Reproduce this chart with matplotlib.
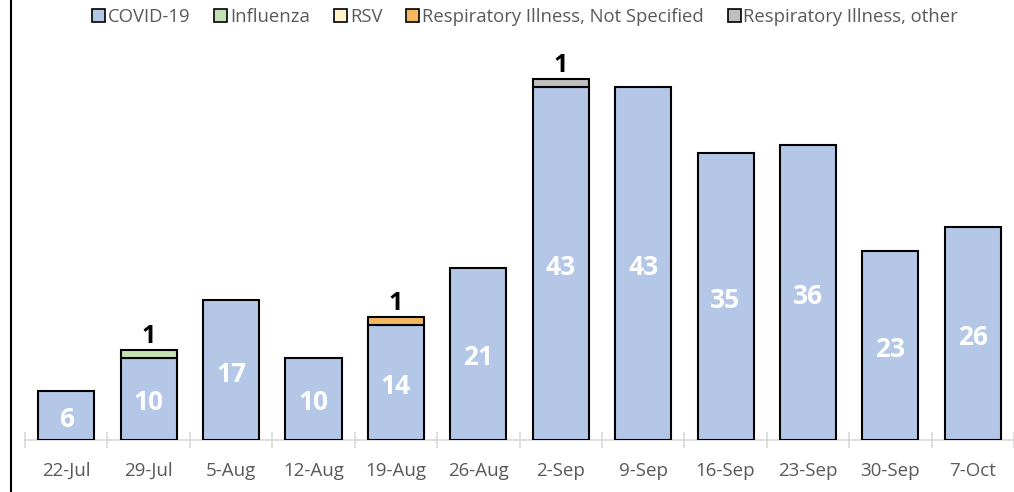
import numpy as np
import matplotlib.pyplot as plt
from matplotlib.lines import Line2D
from matplotlib.patches import Patch

weeks = ['22-Jul', '29-Jul', '5-Aug', '12-Aug', '19-Aug', '26-Aug',
         '2-Sep', '9-Sep', '16-Sep', '23-Sep', '30-Sep', '7-Oct']
covid = [6, 10, 17, 10, 14, 21, 43, 43, 35, 36, 23, 26]
flu = [0, 1, 0, 0, 0, 0, 0, 0, 0, 0, 0, 0]
rsv = [0, 0, 0, 0, 0, 0, 0, 0, 0, 0, 0, 0]
resp_ns = [0, 0, 0, 0, 1, 0, 0, 0, 0, 0, 0, 0]
resp_other = [0, 0, 0, 0, 0, 0, 1, 0, 0, 0, 0, 0]

series = [('COVID-19', covid, '#B4C7E7'),
          ('Influenza', flu, '#C5E0B4'),
          ('RSV', rsv, '#FFF2CC'),
          ('Respiratory Illness, Not Specified', resp_ns, '#F4B860'),
          ('Respiratory Illness, other', resp_other, '#BFBFBF')]

plt.rcParams['font.family'] = ['Open Sans', 'DejaVu Sans']

fig = plt.figure(figsize=(10.14, 4.92), dpi=100)
ax = fig.add_axes([0.0247, 0.1057, 0.9753, 0.834])

x = np.arange(len(weeks))
bottom = np.zeros(len(weeks))
for name, vals, col in series:
  v = np.array(vals, dtype=float)
  mask = v > 0
  ax.bar(x[mask], v[mask], bottom=bottom[mask], width=0.68, color=col,
         edgecolor='black', linewidth=1.5, zorder=3)
  bottom += v

# value labels, sit a little below the segment centre like excel does
for i, v in enumerate(covid):
  ax.annotate(str(v), (x[i], v / 2), xytext=(0, -4), textcoords='offset pixels',
              ha='center', va='center', color='white',
              fontsize=19, fontweight='bold', zorder=4)
for vals in (flu, rsv, resp_ns, resp_other):
  for i, v in enumerate(vals):
    if v > 0:
      ax.text(x[i], bottom[i] + 0.05, str(v), ha='center', va='bottom',
              color='black', fontsize=18, fontweight='bold', zorder=4)

ax.set_xlim(-0.5, len(weeks) - 0.5)
ax.set_ylim(0, 50)
ax.set_yticks([])
for s in ['left', 'right', 'top']:
  ax.spines[s].set_visible(False)
ax.spines['bottom'].set_color('#d9d9d9')
ax.spines['bottom'].set_linewidth(1.2)

ax.set_xticks(x)
ax.set_xticklabels(weeks, fontsize=13.5, color='#595959')
ax.tick_params(axis='x', which='major', length=0, pad=16)
ax.set_xticks(np.arange(-0.5, len(weeks), 1), minor=True)
ax.tick_params(axis='x', which='minor', length=12, direction='inout',
               color='#d9d9d9', width=1.2)

handles = [Patch(facecolor=c, edgecolor='black', linewidth=1.2, label=n)
           for n, _, c in series]
fig.legend(handles=handles, loc='center', bbox_to_anchor=(0.518, 0.965),
           ncol=5, frameon=False, fontsize=13.3, labelcolor='#595959',
           handlelength=0.7, handleheight=0.7, handletextpad=0.15,
           columnspacing=1.3)

fig.add_artist(Line2D([0.0108, 0.0108], [0, 1], color='black', linewidth=1.5,
                      transform=fig.transFigure))

fig.savefig('out.png', dpi=100)
